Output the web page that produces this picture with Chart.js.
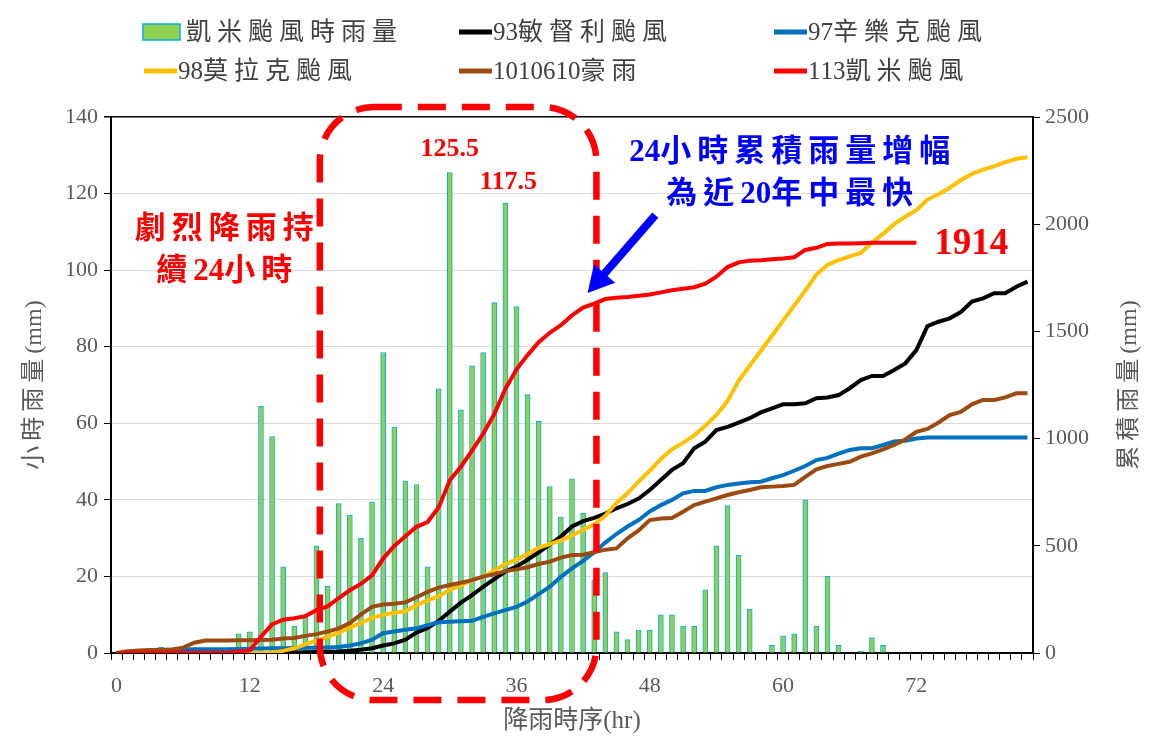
<!DOCTYPE html>
<html>
<head>
<meta charset="utf-8">
<script src="https://cdn.jsdelivr.net/npm/chart.js@4.4.1/dist/chart.umd.min.js"></script>
<style>
    html, body { margin: 0; padding: 0; background: #ffffff; }
    #chart-div { width: 1166px; height: 751px; }
</style>
</head>
<body>
<div id="chart-div"><canvas id="rain-chart" width="1166" height="751"></canvas></div>
<script>
// hour index of the rain sequence
const hours = [0, 1, 2, 3, 4, 5, 6, 7, 8, 9, 10, 11, 12, 13, 14, 15, 16, 17, 18, 19,
    20, 21, 22, 23, 24, 25, 26, 27, 28, 29, 30, 31, 32, 33, 34, 35, 36, 37, 38, 39,
    40, 41, 42, 43, 44, 45, 46, 47, 48, 49, 50, 51, 52, 53, 54, 55, 56, 57, 58, 59,
    60, 61, 62, 63, 64, 65, 66, 67, 68, 69, 70, 71, 72, 73, 74, 75, 76, 77, 78, 79,
    80, 81, 82];
const hourTicks = [0, 12, 24, 36, 48, 60, 72];

// 凱米颱風時雨量 (mm/hr)
const kaemiHourly = [0, 0, 0, 0, 1.5, 0, 0, 0, 0, 0,
    0, 5, 5.5, 64.5, 56.5, 22.5, 7, 9.5, 28, 17.5,
    39, 36, 30, 39.5, 78.5, 59, 45, 44, 22.5, 69,
    125.5, 63.5, 75, 78.5, 91.5, 117.5, 90.5, 67.5, 60.5, 43.5,
    35.5, 45.5, 36.5, 19, 21, 5.5, 3.5, 6, 6, 10,
    10, 7, 7, 16.5, 28, 38.5, 25.5, 11.5, 0, 2,
    4.5, 5, 40, 7, 20, 2, 0, 0.5, 4, 2];

// cumulative rainfall (mm)
const kaemiTotal = [0, 0, 0, 0, 1.5, 1.5, 1.5, 1.5, 1.5, 1.5,
    1.5, 6.5, 12, 76.5, 133, 155.5, 162.5, 172, 200, 217.5,
    256.5, 292.5, 322.5, 362, 440.5, 499.5, 544.5, 588.5, 611, 680,
    805.5, 869, 944, 1022.5, 1114, 1231.5, 1322, 1389.5, 1450, 1493.5,
    1529, 1574.5, 1611, 1630, 1651, 1656.5, 1660, 1666, 1672, 1682,
    1692, 1699, 1706, 1722.5, 1755, 1800, 1822, 1830, 1832, 1836,
    1840, 1846, 1880, 1890, 1908, 1910, 1910, 1911, 1913, 1914,
    1914, 1914, 1914];
const mindulleTotal = [0, 0, 0, 0, 0, 0, 0, 0, 0, 0,
    0, 0, 0, 0, 0, 0, 2, 4, 5, 6,
    7, 10, 15, 22, 35, 45, 62, 95, 117, 150,
    193, 235, 270, 309, 345, 380, 403, 435, 470, 505,
    543, 590, 615, 630, 650, 675, 695, 720, 760, 807,
    854, 885, 955, 986, 1040, 1055, 1075, 1095, 1122, 1141,
    1160, 1160, 1165, 1188, 1192, 1203, 1235, 1273, 1292, 1292,
    1320, 1351, 1413, 1525, 1545, 1561, 1590, 1639, 1654, 1678,
    1678, 1708, 1732];
const sinlakuTotal = [0, 0, 0, 5, 14, 15, 16, 17, 17, 18,
    18, 19, 20, 21, 22, 22, 23, 24, 25, 26,
    28, 35, 45, 62, 92, 100, 108, 115, 130, 143,
    146, 148, 150, 168, 185, 200, 215, 240, 275, 309,
    355, 395, 430, 470, 515, 555, 590, 620, 660, 690,
    714, 745, 756, 756, 773, 784, 791, 796, 799, 815,
    830, 850, 872, 900, 910, 930, 947, 955, 955, 970,
    986, 990, 1000, 1005, 1005, 1005, 1005, 1005, 1005, 1005,
    1005, 1005, 1005];
const morakotTotal = [0, 0, 0, 0, 0, 0, 0, 0, 0, 0,
    0, 0, 0, 0, 2, 10, 22, 40, 58, 75,
    95, 118, 140, 165, 178, 188, 195, 222, 245, 265,
    294, 315, 340, 356, 385, 415, 435, 462, 490, 508,
    525, 548, 575, 600, 640, 700, 745, 800, 850, 905,
    950, 980, 1015, 1060, 1110, 1175, 1270, 1340, 1410, 1480,
    1550, 1620, 1690, 1765, 1810, 1833, 1850, 1866, 1915, 1955,
    2000, 2035, 2065, 2115, 2140, 2170, 2205, 2235, 2255, 2270,
    2290, 2305, 2312];
const heavyRainTotal = [0, 8, 12, 14, 15, 16, 25, 48, 58, 58,
    58, 59, 60, 61, 62, 68, 70, 80, 88, 100,
    115, 140, 180, 215, 226, 230, 236, 260, 285, 305,
    317, 328, 340, 356, 368, 382, 390, 400, 415, 426,
    445, 457, 458, 470, 482, 488, 535, 572, 620, 627,
    630, 659, 690, 706, 721, 737, 750, 760, 773, 776,
    779, 784, 822, 857, 872, 882, 892, 916, 931, 950,
    970, 996, 1032, 1045, 1075, 1110, 1125, 1160, 1180, 1180,
    1192, 1211, 1211];

const serif = '"Liberation Serif", "Noto Sans CJK TC", serif';
const tickFont = { family: serif, size: 22 };
const grey = '#595959';

function lineSet(label, data, color, order) {
    return {
        type: 'line',
        label: label,
        data: data,
        yAxisID: 'yTotal',
        borderColor: color,
        backgroundColor: color,
        borderWidth: 4,
        pointRadius: 0,
        tension: 0,
        fill: false,
        order: order
    };
}

let hourlySet = {
    type: 'bar',
    label: '凱米颱風時雨量',
    data: kaemiHourly,
    yAxisID: 'yRain',
    backgroundColor: '#92d050',
    borderColor: '#00b0f0',
    borderWidth: 1,
    barThickness: 5,
    order: 10
};
let mindulleSet = lineSet('93敏督利颱風', mindulleTotal, '#000000', 4);
let sinlakuSet = lineSet('97辛樂克颱風', sinlakuTotal, '#0070c0', 3);
let morakotSet = lineSet('98莫拉克颱風', morakotTotal, '#ffc000', 2);
let heavyRainSet = lineSet('1010610豪雨', heavyRainTotal, '#9c4a10', 1);
let kaemiSet = lineSet('113凱米颱風', kaemiTotal, '#ff0000', 0);

// text with extra space after the CJK characters only (digits stay tight)
function spacedText(ctx, text, x, y, gap, align) {
    let chars = Array.from(text);
    let steps = chars.map(ch => ctx.measureText(ch).width + (/[\u2e80-\u9fff\uf900-\ufaff]/.test(ch) ? gap : 0));
    let total = steps.reduce((a, b) => a + b, 0);
    if (/[\u2e80-\u9fff\uf900-\ufaff]/.test(chars[chars.length - 1])) total -= gap;
    let cx = align === 'center' ? x - total / 2 : x;
    ctx.save();
    ctx.textAlign = 'left';
    for (let i = 0; i < chars.length; i++) {
        ctx.fillText(chars[i], cx, y);
        cx += steps[i];
    }
    ctx.restore();
}

// legend drawn in two rows of three, like the original figure
let legendPlugin = {
    id: 'gridLegend',
    afterDraw: function (chart) {
        let ctx = chart.ctx;
        let cols = [143, 458, 773];
        let rows = [32, 71];
        let items = [hourlySet, mindulleSet, sinlakuSet, morakotSet, heavyRainSet, kaemiSet];
        ctx.save();
        ctx.font = '25px ' + serif;
        ctx.textBaseline = 'middle';
        for (let i = 0; i < items.length; i++) {
            let x = cols[i % 3];
            let y = rows[Math.floor(i / 3)];
            let item = items[i];
            let textX;
            if (item.type === 'bar') {
                ctx.fillStyle = item.backgroundColor;
                ctx.fillRect(x, y - 8, 37, 16);
                ctx.strokeStyle = item.borderColor;
                ctx.lineWidth = 1.5;
                ctx.strokeRect(x, y - 8, 37, 16);
                textX = x + 43;
            } else {
                ctx.strokeStyle = item.borderColor;
                ctx.lineWidth = 5;
                ctx.beginPath();
                ctx.moveTo(x + 1, y);
                ctx.lineTo(x + 34, y);
                ctx.stroke();
                textX = x + 35;
            }
            ctx.fillStyle = '#404040';
            spacedText(ctx, item.label, textX, y + 1, 6, 'left');
        }

        // the two axis titles, both reading bottom to top
        let area = chart.chartArea;
        let midY = (area.top + area.bottom) / 2;
        ctx.fillStyle = grey;
        ctx.font = '24px ' + serif;
        let titles = [[35, '小時雨量(mm)'], [1130, '累積雨量(mm)']];
        for (let t of titles) {
            ctx.save();
            ctx.translate(t[0], midY);
            ctx.rotate(-Math.PI / 2);
            spacedText(ctx, t[1], 0, 0, 5, 'center');
            ctx.restore();
        }
        ctx.restore();
    }
};

// red box, arrows and the call-out texts
let notesPlugin = {
    id: 'notes',
    afterDatasetsDraw: function (chart) {
        let ctx = chart.ctx;
        let x = chart.scales.x;
        let yRain = chart.scales.yRain;
        let yTotal = chart.scales.yTotal;
        ctx.save();

        let left = x.getPixelForValue(18.3);
        let right = x.getPixelForValue(43.2);
        let top = yRain.getPixelForValue(142.6);
        let bottom = yRain.getPixelForValue(-12.3);
        let r = 54;
        ctx.strokeStyle = '#ff0000';
        ctx.lineWidth = 6.5;
        ctx.setLineDash([28, 16]);
        ctx.beginPath();
        ctx.moveTo(left + r, top);
        ctx.arcTo(right, top, right, bottom, r);
        ctx.arcTo(right, bottom, left, bottom, r);
        ctx.arcTo(left, bottom, left, top, r);
        ctx.arcTo(left, top, right, top, r);
        ctx.closePath();
        ctx.stroke();
        ctx.setLineDash([]);

        ctx.textAlign = 'center';
        ctx.textBaseline = 'middle';
        ctx.fillStyle = '#ff0000';
        ctx.font = 'bold 26px ' + serif;
        ctx.fillText('125.5', x.getPixelForValue(30), yRain.getPixelForValue(125.5) - 23);
        ctx.fillText('117.5', x.getPixelForValue(35) + 3, yRain.getPixelForValue(117.5) - 21);

        ctx.font = 'bold 31px ' + serif;
        spacedText(ctx, '劇烈降雨持', x.getPixelForValue(9.7), yRain.getPixelForValue(110.5), 6, 'center');
        spacedText(ctx, '續24小時', x.getPixelForValue(9.7), yRain.getPixelForValue(99.5), 6, 'center');

        ctx.fillStyle = '#0000ff';
        spacedText(ctx, '24小時累積雨量增幅', x.getPixelForValue(60.6), yRain.getPixelForValue(130.6), 6, 'center');
        spacedText(ctx, '為近20年中最快', x.getPixelForValue(60.6), yRain.getPixelForValue(119.6), 6, 'center');

        // arrow towards the red curve
        let x1 = x.getPixelForValue(48.5), y1 = yRain.getPixelForValue(114.4);
        let x2 = x.getPixelForValue(42.4), y2 = yRain.getPixelForValue(94);
        let ang = Math.atan2(y2 - y1, x2 - x1);
        let head = 26;
        ctx.strokeStyle = '#0000ff';
        ctx.lineWidth = 8;
        ctx.beginPath();
        ctx.moveTo(x1, y1);
        ctx.lineTo(x2 - head * 0.8 * Math.cos(ang), y2 - head * 0.8 * Math.sin(ang));
        ctx.stroke();
        ctx.beginPath();
        ctx.moveTo(x2, y2);
        ctx.lineTo(x2 - head * Math.cos(ang) + 14 * Math.sin(ang), y2 - head * Math.sin(ang) - 14 * Math.cos(ang));
        ctx.lineTo(x2 - head * Math.cos(ang) - 14 * Math.sin(ang), y2 - head * Math.sin(ang) + 14 * Math.cos(ang));
        ctx.closePath();
        ctx.fill();

        ctx.fillStyle = '#ff0000';
        ctx.textAlign = 'left';
        ctx.font = 'bold 37px ' + serif;
        ctx.fillText('1914', x.getPixelForValue(72) + 18, yTotal.getPixelForValue(1914) + 2);
        ctx.restore();
    }
};

let config = {
    type: 'bar',
    data: {
        labels: hours,
        datasets: [hourlySet, mindulleSet, sinlakuSet, morakotSet, heavyRainSet, kaemiSet]
    },
    options: {
        responsive: false,
        animation: false,
        devicePixelRatio: 1,
        layout: { padding: { top: 117, left: 0, right: 0, bottom: 0 } },
        plugins: {
            legend: { display: false },
            tooltip: { enabled: false }
        },
        scales: {
            x: {
                type: 'category',
                offset: true,
                grid: { offset: true, drawOnChartArea: false, tickLength: 7, tickColor: '#000000', tickWidth: 1 },
                border: { color: '#000000', width: 2 },
                ticks: {
                    autoSkip: false,
                    maxRotation: 0,
                    padding: 13,
                    color: grey,
                    font: tickFont,
                    callback: function (value) {
                        let label = this.getLabelForValue(value);
                        return hourTicks.includes(Number(label)) ? String(label) : '';
                    }
                },
                title: {
                    display: true,
                    text: '降雨時序(hr)',
                    color: grey,
                    font: { family: serif, size: 25 },
                    padding: { top: 0, bottom: 15 }
                },
                afterFit: function (scale) { scale.height = 98; }
            },
            yRain: {
                position: 'left',
                min: 0,
                max: 140,
                ticks: { stepSize: 20, color: grey, font: tickFont, padding: 6 },
                grid: {
                    color: (c) => c.tick && c.tick.value === 140 ? '#000000' : '#d9d9d9',
                    lineWidth: (c) => c.tick && c.tick.value === 140 ? 1.5 : 1,
                    tickColor: '#000000',
                    tickLength: 7
                },
                border: { color: '#000000', width: 2 },
                afterFit: function (scale) { scale.width = 111; }
            },
            yTotal: {
                position: 'right',
                min: 0,
                max: 2500,
                ticks: {
                    stepSize: 500,
                    color: grey,
                    font: tickFont,
                    padding: 5,
                    callback: (v) => String(v)
                },
                grid: { drawOnChartArea: false, tickColor: '#000000', tickLength: 7 },
                border: { color: '#000000', width: 2 },
                afterFit: function (scale) { scale.width = 133; }
            }
        }
    },
    plugins: [notesPlugin, legendPlugin]
};

let canvas = document.getElementById('rain-chart');
let chart = new Chart(canvas.getContext('2d'), config);
</script>
</body>
</html>
